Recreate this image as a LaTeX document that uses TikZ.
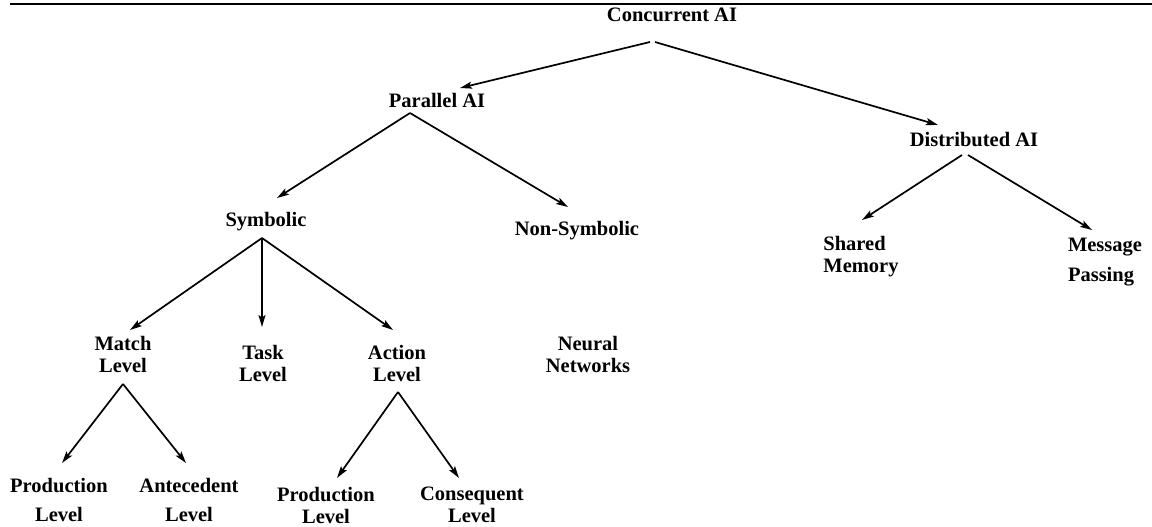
\documentclass[tikz,border=0pt]{standalone}
\usepackage{fontspec}
\setmainfont{Liberation Serif}
\usetikzlibrary{arrows.meta,calc}
\begin{document}
\begin{tikzpicture}[x=1pt,y=-1pt,
  lbl/.style={font=\fontsize{20.5}{22}\selectfont\bfseries, inner sep=0pt, align=center},
  arr/.style={line width=1.7pt, -{Stealth[length=12pt,width=7pt,inset=2.5pt]}}]
\useasboundingbox (0,0) rectangle (1152,527);
% rule across the top
\coordinate (ruleL) at (10,4);
\coordinate (ruleR) at (1152,4);
\draw[line width=2pt] (ruleL) -- (ruleR);

% tree labels
\node[lbl] (conc) at (672,15) {Concurrent AI};
\node[lbl] (par) at (437,100) {Parallel AI};
\node[lbl] (dist) at (974,140) {Distributed AI};
\node[lbl] (sym) at (266,222) {Symbolic};
\node[lbl] (nonsym) at (577,231) {Non-Symbolic};
\node[lbl,align=left] (shared) at (861,257) {Shared\\Memory};
\node[lbl,align=left] (msg) at (1105,262) {Message\\[8pt]Passing};
\node[lbl] (match) at (123,354) {Match\\Level};
\node[lbl] (task) at (263,363) {Task\\Level};
\node[lbl] (action) at (397,363) {Action\\Level};
\node[lbl] (neural) at (588,354) {Neural\\Networks};
\node[lbl] (prodL) at (59,500) {Production\\[7pt]Level};
\node[lbl] (ante) at (189,500) {Antecedent\\[7pt]Level};
\node[lbl] (prodR) at (326,505) {Production\\Level};
\node[lbl] (cons) at (472,505) {Consequent\\Level};

% connectors
\draw[arr] ($(conc)+(-22,27)$) -- ($(par)+(23,-12)$);
\draw[arr] ($(conc)+(-17,27)$) -- ($(dist)+(-36,-15)$);
\draw[arr] ($(par)+(-27,13)$) -- ($(sym)+(11,-24)$);
\draw[arr] ($(par)+(-27,13)$) -- ($(nonsym)+(-9,-24)$);
\draw[arr] ($(dist)+(-12,15)$) -- ($(shared)+(1,-37)$);
\draw[arr] ($(dist)+(-6,15)$) -- ($(msg)+(-13,-32)$);
\draw[arr] ($(sym)+(-4,16)$) -- ($(match)+(7,-24)$);
\draw[arr] ($(sym)+(-4,16)$) -- ($(task)+(-1,-36)$);
\draw[arr] ($(sym)+(-4,16)$) -- ($(action)+(-4,-33)$);
\draw[arr] ($(match)+(0,30)$) -- ($(prodL)+(3,-37)$);
\draw[arr] ($(match)+(0,30)$) -- ($(ante)+(-3,-37)$);
\draw[arr] ($(action)+(1,29)$) -- ($(prodR)+(11,-27)$);
\draw[arr] ($(action)+(1,29)$) -- ($(cons)+(-13,-27)$);
\end{tikzpicture}
\end{document}
